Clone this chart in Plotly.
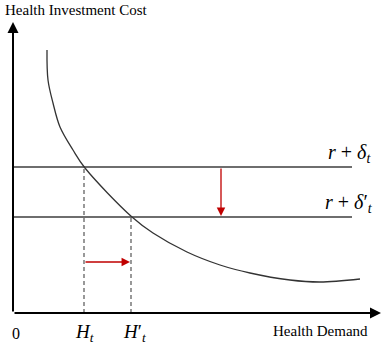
import plotly.graph_objects as go

# Values (origin at the axes' corner)
demand = [34, 35, 40, 47, 60, 72, 119, 140, 174, 207, 237, 277, 307, 347]
cost = [263, 233, 210, 186, 163, 145, 96, 80, 61, 48, 40, 33, 31, 34]
rate_levels = [146, 96]            # r + delta_t, r + delta'_t
rate_labels = ["<i>r</i> + <i>δ</i><sub><i>t</i></sub>",
               "<i>r</i> + <i>δ</i>′<sub><i>t</i></sub>"]
h_values = [71, 118]               # H_t, H'_t
h_labels = ["<i>H</i><sub><i>t</i></sub>", "<i>H</i>′<sub><i>t</i></sub>"]
x_end = 339
x_axis_end = 368
y_axis_end = 291
down_arrow_x = 208
right_arrow_y = 51

SERIF = "Liberation Serif, Times New Roman, serif"
fig = go.Figure()

# Rate lines
for lvl in rate_levels:
    fig.add_trace(go.Scatter(x=[0, x_end], y=[lvl, lvl], mode="lines",
                             line=dict(color="#6e6e6e", width=1.8),
                             hoverinfo="skip", showlegend=False))

# Dashed verticals
for h, lvl in zip(h_values, rate_levels):
    fig.add_trace(go.Scatter(x=[h, h], y=[0, lvl], mode="lines",
                             line=dict(color="#555555", width=1.2, dash="4px,3px"),
                             hoverinfo="skip", showlegend=False))

# Demand curve
fig.add_trace(go.Scatter(x=demand, y=cost, mode="lines",
                         line=dict(color="#333333", width=1.3, shape="spline", smoothing=1.0),
                         hoverinfo="skip", showlegend=False))

ann = []
# Axes with arrows
ann.append(dict(x=x_axis_end, y=0, ax=0, ay=0, xref="x", yref="y", axref="x", ayref="y",
                showarrow=True, arrowhead=2, arrowsize=1.1, arrowwidth=2, arrowcolor="black", text=""))
ann.append(dict(x=0, y=y_axis_end, ax=0, ay=0, xref="x", yref="y", axref="x", ayref="y",
                showarrow=True, arrowhead=2, arrowsize=1.1, arrowwidth=2, arrowcolor="black", text=""))
# Red arrows
ann.append(dict(x=down_arrow_x, y=rate_levels[1] + 1, ax=down_arrow_x, ay=rate_levels[0],
                xref="x", yref="y", axref="x", ayref="y",
                showarrow=True, arrowhead=2, arrowsize=1.3, arrowwidth=1.3, arrowcolor="#c00000", text=""))
ann.append(dict(x=h_values[1] - 1, y=right_arrow_y, ax=h_values[0], ay=right_arrow_y,
                xref="x", yref="y", axref="x", ayref="y",
                showarrow=True, arrowhead=2, arrowsize=1.3, arrowwidth=1.3, arrowcolor="#c00000", text=""))

# Texts
ann.append(dict(x=-10, y=303, xref="x", yref="y", text="Health Investment Cost", showarrow=False,
                xanchor="left", yanchor="middle", font=dict(family=SERIF, size=15, color="black")))
ann.append(dict(x=357, y=-18, xref="x", yref="y", text="Health Demand", showarrow=False,
                xanchor="right", yanchor="middle", font=dict(family=SERIF, size=15, color="black")))
ann.append(dict(x=3, y=-20, xref="x", yref="y", text="0", showarrow=False,
                xanchor="center", yanchor="middle", font=dict(family=SERIF, size=16, color="black")))
for h, lab, dx in zip(h_values, h_labels, [0, 3]):
    ann.append(dict(x=h + dx, y=-20, xref="x", yref="y", text=lab, showarrow=False,
                    xanchor="center", yanchor="middle", font=dict(family=SERIF, size=19, color="black")))
for lvl, lab in zip(rate_levels, rate_labels):
    ann.append(dict(x=336, y=lvl + 14, xref="x", yref="y", text=lab, showarrow=False,
                    xanchor="center", yanchor="middle", font=dict(family=SERIF, size=20, color="black")))

fig.update_layout(
    width=383, height=345,
    margin=dict(l=0, r=0, t=0, b=0),
    paper_bgcolor="white", plot_bgcolor="white",
    xaxis=dict(range=[-13, 370], visible=False, fixedrange=True),
    yaxis=dict(range=[-32, 313], visible=False, fixedrange=True),
    annotations=ann,
    showlegend=False,
)

fig.write_html("out.html", config={"displayModeBar": False},
               post_script="document.body.style.margin='0px';document.body.style.overflow='hidden';")
